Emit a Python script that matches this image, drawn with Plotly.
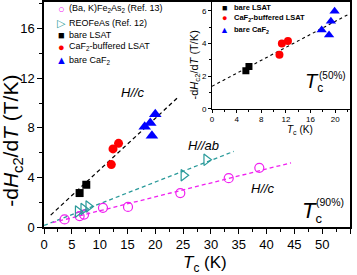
import plotly.graph_objects as go

# ---------------- data (main panel, Tc at 90%) ----------------
bak_tc = [3.7, 6.4, 7.2, 10.6, 15.1, 24.5, 33.2, 38.7]
bak_slope = [0.61, 0.88, 1.0, 1.55, 1.62, 2.74, 3.94, 4.78]
reo_tc = [6.1, 7.1, 8.0, 25.1, 29.2]
reo_slope = [1.25, 1.45, 1.65, 4.18, 5.42]
lsat_tc = [6.4, 7.6]
lsat_slope = [2.74, 3.41]
caf_lsat_tc = [12.1, 12.4, 13.4]
caf_lsat_slope = [5.04, 6.3, 6.75]
caf_tc = [18.1, 19.1, 19.4, 20.0]
caf_slope = [8.1, 8.4, 7.36, 9.1]

fit_c_tc = [1.2, 24.3]
fit_c_slope = [0.96, 10.55]
fit_ab_tc = [0.0, 34.1]
fit_ab_slope = [0.12, 6.1]
fit_bak_tc = [1.5, 44.4]
fit_bak_slope = [0.35, 5.18]

# ---------------- data (inset, Tc at 50%) ----------------
in_lsat_tc = [5.5, 6.0]
in_lsat_slope = [2.33, 2.6]
in_caf_lsat_tc = [10.95, 11.34, 12.33]
in_caf_lsat_slope = [3.31, 4.01, 4.16]
in_caf_tc = [17.8, 19.0, 19.3, 19.9]
in_caf_slope = [4.83, 4.52, 5.37, 5.98]
in_fit_tc = [0.0, 22.2]
in_fit_slope = [1.38, 5.8]

main_xticks = [0, 5, 10, 15, 20, 25, 30, 35, 40, 45, 50, 55]
main_yticks = [0, 4, 8, 12, 16]
inset_xticks = [0, 4, 8, 12, 16, 20]
inset_yticks = [0, 2, 4, 6]

FONT = "Liberation Sans, Arial, sans-serif"
MAG = "#f020f0"
TEAL = "#2a9a9a"
RED = "#ff0000"
BLUE = "#0000ff"

W, H = 357, 275
ML, MR, MT, MB = 44, 7, 0, 48
PW, PH = W - ML - MR, H - MT - MB


def px(x, y):
    return (x - ML) / PW, (PH + MT - y) / PH


fig = go.Figure()

dash = "4px,3px"
fig.add_trace(go.Scatter(x=fit_c_tc, y=fit_c_slope, mode="lines",
                         line=dict(color="black", width=1.3, dash=dash), showlegend=False))
fig.add_trace(go.Scatter(x=fit_ab_tc, y=fit_ab_slope, mode="lines",
                         line=dict(color=TEAL, width=1.3, dash=dash), showlegend=False))
fig.add_trace(go.Scatter(x=fit_bak_tc, y=fit_bak_slope, mode="lines",
                         line=dict(color=MAG, width=1.3, dash=dash), showlegend=False))

fig.add_trace(go.Scatter(x=bak_tc, y=bak_slope, mode="markers", name="(Ba, K)Fe2As2 (Ref. 13)",
                         marker=dict(symbol="circle-open", size=9, color=MAG, line=dict(width=1.2)),
                         showlegend=False))
fig.add_trace(go.Scatter(x=reo_tc, y=reo_slope, mode="markers", name="REOFeAs (Ref. 12)",
                         marker=dict(symbol="triangle-right-open", size=10, color=TEAL, line=dict(width=1.2)),
                         showlegend=False))
fig.add_trace(go.Scatter(x=lsat_tc, y=lsat_slope, mode="markers", name="bare LSAT",
                         marker=dict(symbol="square", size=8, color="black"), showlegend=False))
fig.add_trace(go.Scatter(x=caf_lsat_tc, y=caf_lsat_slope, mode="markers", name="CaF2-buffered LSAT",
                         marker=dict(symbol="circle", size=9, color=RED), showlegend=False))
fig.add_trace(go.Scatter(x=caf_tc, y=caf_slope, mode="markers", name="bare CaF2",
                         marker=dict(symbol="triangle-up", size=11, color=BLUE), showlegend=False))

# inset
fig.add_trace(go.Scatter(x=in_fit_tc, y=in_fit_slope, mode="lines", xaxis="x2", yaxis="y2",
                         line=dict(color="black", width=1.1, dash="3px,3px"), showlegend=False))
fig.add_trace(go.Scatter(x=in_lsat_tc, y=in_lsat_slope, mode="markers", xaxis="x2", yaxis="y2",
                         marker=dict(symbol="square", size=7, color="black"), showlegend=False))
fig.add_trace(go.Scatter(x=in_caf_lsat_tc, y=in_caf_lsat_slope, mode="markers", xaxis="x2", yaxis="y2",
                         marker=dict(symbol="circle", size=8, color=RED), showlegend=False))
fig.add_trace(go.Scatter(x=in_caf_tc, y=in_caf_slope, mode="markers", xaxis="x2", yaxis="y2",
                         marker=dict(symbol="triangle-up", size=9, color=BLUE), showlegend=False))

ax_common = dict(showgrid=False, zeroline=False, showline=True, linecolor="black",
                 ticks="outside", tickcolor="black")

inx0, iny0 = px(212, 107.7)

fig.update_layout(
    width=W, height=H,
    margin=dict(l=ML, r=MR, t=MT, b=MB),
    paper_bgcolor="white", plot_bgcolor="white",
    font=dict(family=FONT, color="black"),
    xaxis=dict(range=[0, 55], tickvals=main_xticks, ticklen=5, tickwidth=1.2, linewidth=1.5,
               mirror=True, tickfont=dict(size=13),
               minor=dict(dtick=2.5, ticklen=3, ticks="outside", tickcolor="black", tickwidth=1),
               **ax_common),
    yaxis=dict(range=[0, 18.16], tickvals=main_yticks, ticklen=5, tickwidth=1.2, linewidth=1.5,
               mirror=True, tickfont=dict(size=13),
               minor=dict(dtick=2, ticklen=3, ticks="outside", tickcolor="black", tickwidth=1),
               **ax_common),
    xaxis2=dict(domain=[inx0, 1], anchor="y2", range=[0, 22.4], tickvals=inset_xticks,
                ticklen=3, tickwidth=1, linewidth=1, tickfont=dict(size=8),
                minor=dict(dtick=2, ticklen=2, ticks="outside", tickcolor="black", tickwidth=0.8),
                **ax_common),
    yaxis2=dict(domain=[iny0, 1], anchor="x2", range=[0, 6.55], tickvals=inset_yticks,
                ticklen=3, tickwidth=1, linewidth=1, tickfont=dict(size=8),
                minor=dict(dtick=1, ticklen=2, ticks="outside", tickcolor="black", tickwidth=0.8),
                **ax_common),
)

ann = []


def add_text(text, x, y, size, xanchor="center", yanchor="middle", angle=0, color="black", bold=False):
    ax, ay = px(x, y)
    ann.append(dict(text=("<b>%s</b>" % text) if bold else text, x=ax, y=ay, xref="paper", yref="paper",
                    showarrow=False, xanchor=xanchor, yanchor=yanchor, textangle=angle,
                    font=dict(size=size, color=color, family=FONT)))


# axis titles
add_text("-d<i>H</i><sub>c2</sub>/d<i>T</i> (T/K)", 12, 140, 21, angle=-90)
add_text("<i>T</i><sub>c</sub> (K)", 205, 264, 17)
add_text("-d<i>H</i><sub>c2</sub>/d<i>T</i> (T/K)", 195, 64, 11, angle=-90)
add_text("<i>T</i><sub>c</sub> (K)", 300, 129, 10)

# in-plot labels
add_text("<i>H//c</i>", 133, 91, 13)
add_text("<i>H//ab</i>", 203, 145, 13)
add_text("<i>H//c</i>", 263, 188, 13)
add_text("<i>T</i><sub><span style='font-size:13px'>c</span></sub>", 300, 212, 22, xanchor="left")
add_text("(90%)", 329.5, 202, 10.5)
add_text("<i>T</i><sub><span style='font-size:12px'>c</span></sub>", 303, 81, 20, xanchor="left")
add_text("(50%)", 332.5, 74, 10)

# main legend
leg_rows = [("○", MAG, "(Ba, K)Fe<sub>2</sub>As<sub>2</sub> (Ref. 13)", 7),
            ("▷", TEAL, "REOFeAs (Ref. 12)", 21),
            ("■", "black", "bare LSAT", 33),
            ("●", RED, "CaF<sub>2</sub>-buffered LSAT", 45),
            ("▲", BLUE, "bare CaF<sub>2</sub>", 59)]
for sym, col, txt, yy in leg_rows:
    add_text(sym, 61, yy, 11, color=col)
    add_text(txt, 67, yy, 9, xanchor="left")

# inset legend
in_rows = [("■", "black", "bare LSAT", 6),
           ("●", RED, "CaF<sub>2</sub>-buffered LSAT", 16),
           ("▲", BLUE, "bare CaF<sub>2</sub>", 28)]
for sym, col, txt, yy in in_rows:
    add_text(sym, 224, yy, 9, color=col)
    add_text(txt, 232, yy, 7.5, xanchor="left", bold=True)

fig.update_layout(annotations=ann)
fig.write_html("out.html", config={"displayModeBar": False},
               post_script="document.body.style.margin='0px';")
